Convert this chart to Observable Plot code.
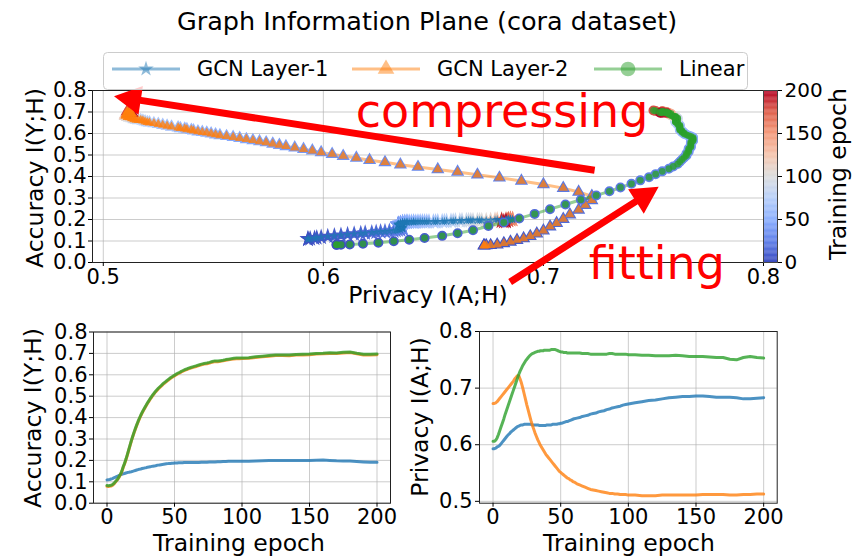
<!DOCTYPE html>
<html><head><meta charset="utf-8">
<script src="https://cdn.jsdelivr.net/npm/d3@7"></script>
<script src="https://cdn.jsdelivr.net/npm/@observablehq/plot@0.6"></script>
<style>
html,body{margin:0;padding:0;background:#fff;}
#chart{position:relative;width:854px;height:556px;overflow:hidden;font-family:"DejaVu Sans",sans-serif;color:#000;background:#fff;}
.lbl{position:absolute;white-space:nowrap;line-height:1.164;}
</style></head><body><div id="chart"></div>
<script>
// ---------------- data ----------------
const epochs = [0,1,2,3,4,5,6,7,8,9,10,11,12,13,14,15,16,17,18,19,20,21,22,23,24,25,26,27,28,29,30,31,32,33,34,35,36,37,38,39,40,41,42,43,44,45,46,47,48,49,50,51,52,53,54,55,56,57,58,59,60,
62,64,66,68,70,72,74,76,78,80,82,84,86,88,90,92,94,96,98,100,
105,110,115,120,125,130,135,140,145,150,155,160,165,170,175,180,185,190,195,200];

const accGCN1 = [0.109,0.110,0.111,0.113,0.115,0.118,0.121,0.124,0.127,0.130,
0.133,0.135,0.137,0.139,0.141,0.143,0.144,0.146,0.147,0.149,
0.151,0.153,0.155,0.157,0.159,0.160,0.162,0.163,0.165,0.166,
0.168,0.169,0.170,0.172,0.173,0.174,0.175,0.177,0.178,0.179,
0.180,0.181,0.182,0.183,0.184,0.185,0.186,0.186,0.187,0.187,
0.188,0.188,0.188,0.189,0.189,0.189,0.189,0.190,0.190,0.190,0.190,
0.190,0.190,0.190,0.190,0.191,0.191,0.191,0.192,0.193,0.193,0.194,0.194,0.195,0.195,0.196,0.196,0.196,0.196,0.196,0.196,
0.196,0.197,0.198,0.199,0.200,0.200,0.199,0.200,0.200,0.200,0.201,0.202,0.200,0.198,0.197,0.197,0.195,0.193,0.191,0.191];

const accGCN2 = [0.079,0.078,0.079,0.080,0.083,0.089,0.096,0.104,0.112,0.122,
0.134,0.148,0.167,0.183,0.202,0.223,0.245,0.267,0.289,0.309,
0.328,0.346,0.363,0.379,0.394,0.408,0.421,0.433,0.444,0.455,
0.466,0.476,0.486,0.495,0.504,0.512,0.520,0.527,0.534,0.540,
0.546,0.552,0.558,0.563,0.568,0.573,0.578,0.583,0.587,0.591,
0.595,0.599,0.603,0.606,0.609,0.613,0.616,0.619,0.622,0.624,0.627,
0.631,0.635,0.639,0.643,0.647,0.650,0.652,0.655,0.659,0.662,0.661,0.663,0.665,0.668,0.670,0.672,0.674,0.675,0.675,0.676,
0.677,0.681,0.684,0.687,0.690,0.690,0.689,0.692,0.693,0.694,0.697,0.698,0.700,0.699,0.702,0.704,0.698,0.693,0.693,0.694];

const accLinear = [0.083,0.082,0.083,0.084,0.087,0.092,0.099,0.106,0.114,0.124,
0.136,0.150,0.170,0.186,0.205,0.226,0.248,0.270,0.292,0.312,
0.331,0.349,0.366,0.382,0.397,0.411,0.424,0.436,0.447,0.458,
0.469,0.479,0.489,0.498,0.507,0.515,0.523,0.530,0.537,0.543,
0.549,0.555,0.561,0.566,0.571,0.576,0.581,0.586,0.590,0.594,
0.598,0.602,0.606,0.609,0.612,0.616,0.619,0.622,0.625,0.627,0.630,
0.634,0.638,0.642,0.646,0.650,0.653,0.655,0.658,0.662,0.665,0.664,0.666,0.668,0.671,0.673,0.675,0.677,0.678,0.678,0.679,
0.680,0.684,0.687,0.690,0.693,0.693,0.692,0.695,0.696,0.697,0.700,0.701,0.703,0.702,0.705,0.707,0.701,0.696,0.696,0.697];

const privGCN1 = [0.593,0.593,0.594,0.596,0.597,0.599,0.602,0.605,0.608,0.611,
0.614,0.617,0.619,0.622,0.624,0.626,0.628,0.630,0.632,0.633,
0.634,0.635,0.635,0.636,0.636,0.636,0.636,0.636,0.636,0.635,
0.635,0.635,0.635,0.635,0.634,0.634,0.634,0.634,0.634,0.634,
0.635,0.635,0.635,0.635,0.636,0.636,0.636,0.636,0.637,0.637,
0.638,0.638,0.639,0.640,0.641,0.641,0.642,0.643,0.644,0.645,0.646,
0.647,0.648,0.650,0.651,0.652,0.654,0.655,0.656,0.658,0.659,0.660,0.662,0.663,0.665,0.666,0.667,0.668,0.670,0.671,0.672,
0.674,0.676,0.678,0.679,0.681,0.683,0.684,0.685,0.685,0.686,0.686,0.685,0.684,0.684,0.684,0.683,0.681,0.681,0.682,0.683];

const privGCN2 = [0.673,0.673,0.674,0.676,0.679,0.682,0.685,0.688,0.691,0.694,
0.697,0.700,0.703,0.706,0.709,0.712,0.716,0.719,0.722,0.722,
0.716,0.709,0.700,0.690,0.680,0.670,0.661,0.652,0.643,0.635,
0.628,0.621,0.615,0.609,0.604,0.599,0.595,0.591,0.587,0.583,
0.580,0.577,0.574,0.571,0.568,0.565,0.562,0.559,0.556,0.553,
0.551,0.549,0.547,0.545,0.543,0.541,0.540,0.538,0.537,0.535,0.534,
0.531,0.529,0.527,0.525,0.523,0.521,0.520,0.519,0.518,0.517,0.516,0.515,0.514,0.514,0.513,0.513,0.512,0.512,0.512,0.511,
0.511,0.510,0.510,0.510,0.511,0.511,0.511,0.511,0.511,0.511,0.512,0.512,0.512,0.512,0.511,0.511,0.512,0.512,0.513,0.513];

const privLinear = [0.606,0.606,0.608,0.612,0.618,0.625,0.632,0.639,0.646,0.654,
0.661,0.668,0.675,0.682,0.689,0.696,0.703,0.710,0.717,0.724,
0.730,0.735,0.740,0.744,0.748,0.751,0.754,0.757,0.759,0.761,
0.762,0.763,0.764,0.765,0.765,0.766,0.766,0.766,0.767,0.767,
0.767,0.767,0.767,0.768,0.768,0.768,0.768,0.767,0.766,0.765,
0.764,0.764,0.763,0.763,0.763,0.762,0.762,0.762,0.762,0.762,0.762,
0.762,0.762,0.761,0.761,0.761,0.760,0.760,0.760,0.760,0.760,0.760,0.760,0.761,0.761,0.760,0.760,0.760,0.760,0.760,0.759,
0.759,0.758,0.758,0.757,0.757,0.757,0.758,0.757,0.756,0.756,0.756,0.755,0.754,0.754,0.751,0.750,0.754,0.756,0.754,0.753];

const seriesNames = ["GCN Layer-1","GCN Layer-2","Linear"];
const privacyTicksTop = [0.5,0.6,0.7,0.8];
const accuracyTicks = [0,0.1,0.2,0.3,0.4,0.5,0.6,0.7,0.8];
const privacyTicksBottom = [0.5,0.6,0.7,0.8];
const epochTicks = [0,50,100,150,200];
const colorbarTicks = [0,50,100,150,200];

// annotations (data coordinates of the top plot)
const arrowAnnotations = [
  {x1:0.7235, y1:0.427, x2:0.5051, y2:0.771},
  {x1:0.6851, y1:-0.093, x2:0.7526, y2:0.3495}
];
const textAnnotations = [
  {label:"compressing", x:0.6147, y:0.628},
  {label:"fitting", x:0.7206, y:-0.0774}
];

// ---------------- styling ----------------
const colors = ["#1f77b4","#ff7f0e","#2ca02c"];
const coolwarmStops = [0,25,50,75,100,125,150,175,200];
const coolwarmColors = ["#3b4cc0","#6282ea","#8db0fe","#b8d0f9","#dddddd","#f5c4ad","#f49a7b","#de604d","#b40426"];
const colorScale = {type:"linear", domain:coolwarmStops, range:coolwarmColors, interpolate:"rgb"};
const baseStyle = {background:"transparent", fontFamily:"DejaVu Sans", fontSize:"21px", color:"#000", overflow:"visible"};
const gridStyle = {stroke:"#b0b0b0", strokeOpacity:0.65, strokeWidth:1};
const fmt1 = d3.format(".1f");

const chart = document.getElementById("chart");
function place(el, left, top){ el.style.position="absolute"; el.style.left=left+"px"; el.style.top=top+"px"; chart.appendChild(el); }
function addLabel(text, cx, cy, size, rotate){
  const d = document.createElement("div");
  d.className = "lbl"; d.textContent = text;
  d.style.left = cx+"px"; d.style.top = cy+"px"; d.style.fontSize = size+"px";
  d.style.transform = "translate(-50%,-50%)" + (rotate ? " rotate(-90deg)" : "");
  chart.appendChild(d);
}

const accs = [accGCN1, accGCN2, accLinear];
const privs = [privGCN1, privGCN2, privLinear];
const symbols = ["star","triangle","circle"];
const rOver = [2.9, 3.5, 3.4];
const rUnder = [2.9, 3.5, 4.1];
const swUnder = [2.4, 2.2, 1.8];

const rowsBySeries = seriesNames.map((name, s) =>
  epochs.map((e, i) => ({series:name, epoch:e, acc:accs[s][i], priv:privs[s][i]})));

// arrow function mark
function arrowsMark(list){
  return (index, scales) => {
    const g = d3.create("svg:g");
    const shaftW = 7, headL = 27, headW = 29;
    for (const a of list){
      const tx = scales.x(a.x1), ty = scales.y(a.y1), px = scales.x(a.x2), py = scales.y(a.y2);
      const L = Math.hypot(px-tx, py-ty), ux = (px-tx)/L, uy = (py-ty)/L, nx = -uy, ny = ux;
      const bx = px - ux*headL, by = py - uy*headL;
      const pts = [
        [tx+nx*shaftW/2, ty+ny*shaftW/2], [bx+nx*shaftW/2, by+ny*shaftW/2], [bx+nx*headW/2, by+ny*headW/2],
        [px, py], [bx-nx*headW/2, by-ny*headW/2], [bx-nx*shaftW/2, by-ny*shaftW/2], [tx-nx*shaftW/2, ty-ny*shaftW/2]
      ];
      g.append("path").attr("d", "M" + pts.map(p => p.join(",")).join("L") + "Z").attr("fill", "#ff0000");
    }
    return g.node();
  };
}

// ---------------- top plot ----------------
const topMarks = [
  Plot.gridX({ticks:privacyTicksTop, ...gridStyle}),
  Plot.gridY({ticks:accuracyTicks, ...gridStyle})
];
rowsBySeries.forEach((rows, s) => {
  topMarks.push(Plot.line(rows, {x:"priv", y:"acc", stroke:colors[s], strokeOpacity:0.5, strokeWidth:3}));
  topMarks.push(Plot.dot(rows, {x:"priv", y:"acc", symbol:symbols[s], r:rUnder[s], fill:"epoch", stroke:"epoch", strokeWidth:swUnder[s]}));
  topMarks.push(Plot.dot(rows, {x:"priv", y:"acc", symbol:symbols[s], r:rOver[s], fill:colors[s], fillOpacity:0.78, stroke:"none"}));
});
topMarks.push(
  Plot.frame({stroke:"#222", strokeWidth:1}),
  Plot.axisX({ticks:privacyTicksTop, tickFormat:fmt1, tickSize:4, tickPadding:3, label:null}),
  Plot.axisY({ticks:accuracyTicks, tickFormat:fmt1, tickSize:4, tickPadding:2, label:null}),
  arrowsMark(arrowAnnotations),
  Plot.text(textAnnotations, {x:"x", y:"y", text:"label", fill:"#ff0000", fontSize:46, textAnchor:"start", lineAnchor:"bottom", fontFamily:"DejaVu Sans"})
);
const topPlot = Plot.plot({
  width:800, height:240, marginLeft:92, marginRight:37, marginTop:10, marginBottom:58,
  style:baseStyle,
  x:{domain:[0.4951,0.8]}, y:{domain:[0,0.8]},
  color:colorScale,
  marks:topMarks
});
place(topPlot, 0, 80);

// ---------------- colorbar ----------------
const cbCells = d3.range(0, 200, 1);
const cbPlot = Plot.plot({
  width:114, height:240, marginLeft:23, marginRight:77, marginTop:10, marginBottom:58,
  style:{...baseStyle, fontSize:"20px"},
  x:{domain:[0,1], axis:null}, y:{domain:[0,200]},
  color:colorScale,
  marks:[
    Plot.rect(cbCells, {x1:0, x2:1, y1:d => d, y2:d => Math.min(200, d + 1.3), fill:d => d + 0.5}),
    Plot.frame({stroke:"#444", strokeWidth:1}),
    Plot.axisY({anchor:"right", ticks:colorbarTicks, tickSize:4, tickPadding:3, label:null})
  ]
});
place(cbPlot, 740, 80);

// ---------------- bottom-left: accuracy vs epoch ----------------
const blPlot = Plot.plot({
  width:420, height:236, marginLeft:93, marginRight:30, marginTop:11.5, marginBottom:53.3,
  style:baseStyle,
  x:{domain:[-10,210]}, y:{domain:[0,0.8]},
  marks:[
    Plot.gridX({ticks:epochTicks, ...gridStyle}),
    Plot.gridY({ticks:accuracyTicks, ...gridStyle}),
    ...rowsBySeries.map((rows, s) => Plot.line(rows, {x:"epoch", y:"acc", stroke:colors[s], strokeOpacity:0.8, strokeWidth:3})),
    Plot.frame({stroke:"#222", strokeWidth:1}),
    Plot.axisX({ticks:epochTicks, tickSize:4, tickPadding:2, label:null}),
    Plot.axisY({ticks:accuracyTicks, tickFormat:fmt1, tickSize:4, tickPadding:2, label:null})
  ]
});
place(blPlot, 0, 320);

// ---------------- bottom-right: privacy vs epoch ----------------
const brPlot = Plot.plot({
  width:454, height:236, marginLeft:79, marginRight:77.3, marginTop:11, marginBottom:53.3,
  style:baseStyle,
  x:{domain:[-10,210]}, y:{domain:[0.4967,0.8]},
  marks:[
    Plot.gridX({ticks:epochTicks, ...gridStyle}),
    Plot.gridY({ticks:privacyTicksBottom, ...gridStyle}),
    ...rowsBySeries.map((rows, s) => Plot.line(rows, {x:"epoch", y:"priv", stroke:colors[s], strokeOpacity:0.8, strokeWidth:3})),
    Plot.frame({stroke:"#222", strokeWidth:1}),
    Plot.axisX({ticks:epochTicks, tickSize:4, tickPadding:2, label:null}),
    Plot.axisY({ticks:privacyTicksBottom, tickFormat:fmt1, tickSize:4, tickPadding:3, label:null})
  ]
});
place(brPlot, 400, 320);

// ---------------- legend ----------------
(function(){
  const lg = d3.create("svg").attr("width", 646).attr("height", 39)
    .style("font-family", "DejaVu Sans").style("overflow", "visible");
  lg.append("rect").attr("x", 0.5).attr("y", 0.5).attr("width", 644).attr("height", 37).attr("rx", 4)
    .attr("fill", "#fff").attr("fill-opacity", 0.8).attr("stroke", "#cccccc");
  const d3sym = [d3.symbolStar, d3.symbolTriangle, d3.symbolCircle];
  const symSize = [75, 120, 170];
  const itemX = [9, 249, 491];
  seriesNames.forEach((name, s) => {
    const x0 = itemX[s], cy = 17;
    lg.append("line").attr("x1", x0).attr("x2", x0 + 68).attr("y1", cy).attr("y2", cy)
      .attr("stroke", colors[s]).attr("stroke-opacity", 0.5).attr("stroke-width", 3);
    lg.append("path").attr("d", d3.symbol(d3sym[s], symSize[s])())
      .attr("transform", `translate(${x0 + 34},${cy})`).attr("fill", colors[s]).attr("fill-opacity", 0.5);
    lg.append("text").attr("x", x0 + 85).attr("y", cy).attr("dy", "0.35em").attr("font-size", 21).text(name);
  });
  place(lg.node(), 103, 52);
})();

// ---------------- titles and axis labels ----------------
addLabel("Graph Information Plane (cora dataset)", 427, 21.7, 25.5, false);
addLabel("Accuracy I(Y;H)", 36, 178, 23.5, true);
addLabel("Privacy I(A;H)", 428, 296, 23.5, false);
addLabel("Training epoch", 839, 174, 23.5, true);
addLabel("Accuracy I(Y;H)", 34, 418, 23.5, true);
addLabel("Training epoch", 239, 544, 23.5, false);
addLabel("Privacy I(A;H)", 421, 417, 23.5, true);
addLabel("Training epoch", 629, 544, 23.5, false);
</script>
</body></html>
